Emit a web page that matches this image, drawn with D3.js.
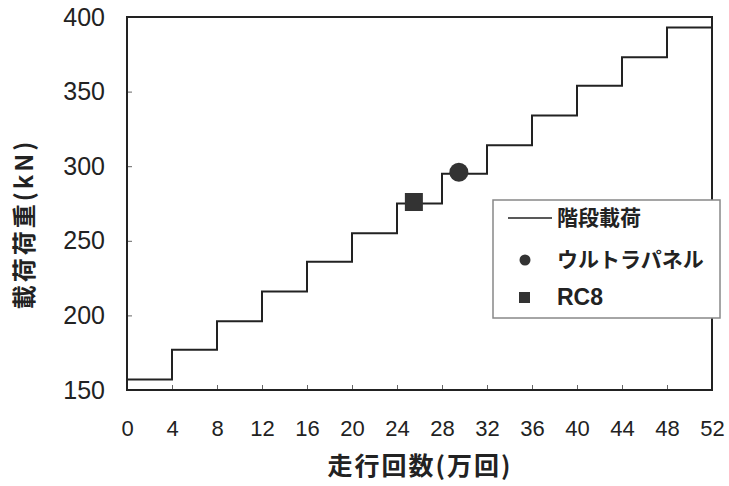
<!DOCTYPE html>
<html>
<head>
<meta charset="utf-8">
<script src="https://cdn.jsdelivr.net/npm/d3@7"></script>
<style>
  body { margin: 0; background: #fff; }
  svg text { font-family: "Liberation Sans", Arial, sans-serif; fill: #222; }
  .jp { font-family: "Noto Sans CJK JP", sans-serif; font-weight: bold; }
</style>
</head>
<body>
<svg id="chart" width="729" height="486"></svg>
<script>
// step loading: start of each step (万回) and load level (kN)
var stepStart = [0, 4, 8, 12, 16, 20, 24, 28, 32, 36, 40, 44, 48];
var stepLoad = [157, 177, 196, 216, 236, 255, 275, 295, 314, 334, 354, 373, 393];
var stepEnd = 52;

// failure points
var panelPoint = [29.5, 296];   // ウルトラパネル
var rc8Point = [25.5, 276];     // RC8

var xTicks = [0, 4, 8, 12, 16, 20, 24, 28, 32, 36, 40, 44, 48, 52];
var yTicks = [150, 200, 250, 300, 350, 400];

var legendLabels = ["階段載荷", "ウルトラパネル", "RC8"];

var svg = d3.select("#chart");
var mLeft = 127, mRight = 712, mTop = 17, mBottom = 390;

var x = d3.scaleLinear().domain([0, 52]).range([mLeft, mRight]);
var y = d3.scaleLinear().domain([150, 400]).range([mBottom, mTop]);

// axes with inward ticks
svg.append("g")
    .attr("transform", "translate(0," + mBottom + ")")
    .call(d3.axisBottom(x).tickValues(xTicks).tickSize(-5).tickPadding(30))
    .call(function(g) {
        g.select(".domain").remove();
        g.selectAll("line").attr("stroke", "#666");
        g.selectAll("text").attr("font-size", "22px").attr("fill", "#222");
    });

svg.append("g")
    .attr("transform", "translate(" + mLeft + ",0)")
    .call(d3.axisLeft(y).tickValues(yTicks).tickSize(-5).tickPadding(22))
    .call(function(g) {
        g.select(".domain").remove();
        g.selectAll("line").attr("stroke", "#666");
        g.selectAll("text").attr("font-size", "25px").attr("fill", "#222");
    });

// frame
svg.append("rect")
    .attr("x", mLeft).attr("y", mTop)
    .attr("width", mRight - mLeft).attr("height", mBottom - mTop)
    .attr("fill", "none").attr("stroke", "#222").attr("stroke-width", 2);

// step line
var pts = [];
stepStart.forEach(function(s, i) {
    pts.push([s, stepLoad[i]]);
});
pts.push([stepEnd, stepLoad[stepLoad.length - 1]]);

var line = d3.line()
    .x(function(d) { return x(d[0]); })
    .y(function(d) { return y(d[1]); })
    .curve(d3.curveStepAfter);

svg.append("path")
    .datum(pts)
    .attr("d", line)
    .attr("fill", "none")
    .attr("stroke", "#222")
    .attr("stroke-width", 2);

// markers
svg.append("circle")
    .attr("cx", x(panelPoint[0])).attr("cy", y(panelPoint[1]))
    .attr("r", 9.5).attr("fill", "#333");

svg.append("rect")
    .attr("x", x(rc8Point[0]) - 9).attr("y", y(rc8Point[1]) - 9)
    .attr("width", 18).attr("height", 18).attr("fill", "#333");

// legend
var lg = svg.append("g");
lg.append("rect")
    .attr("x", 493).attr("y", 200).attr("width", 227).attr("height", 118)
    .attr("fill", "#fff").attr("stroke", "#888").attr("stroke-width", 1.5);

lg.append("line")
    .attr("x1", 508).attr("x2", 552).attr("y1", 218).attr("y2", 218)
    .attr("stroke", "#222").attr("stroke-width", 1.5);
lg.append("circle").attr("cx", 525).attr("cy", 260).attr("r", 5.5).attr("fill", "#333");
lg.append("rect").attr("x", 519).attr("y", 292).attr("width", 11).attr("height", 11).attr("fill", "#333");

legendLabels.forEach(function(t, i) {
    lg.append("text")
        .attr("class", i < 2 ? "jp" : "")
        .attr("x", 557).attr("y", [218, 260, 297][i])
        .attr("dy", "0.35em")
        .attr("font-size", i < 2 ? "21px" : "23px")
        .attr("font-weight", "bold")
        .text(t);
});

// axis titles
svg.append("text")
    .attr("class", "jp")
    .attr("x", 420).attr("y", 466)
    .attr("text-anchor", "middle").attr("dy", "0.35em")
    .attr("font-size", "25px")
    .attr("letter-spacing", "2px")
    .text("走行回数(万回)");

svg.append("text")
    .attr("class", "jp")
    .attr("transform", "translate(25,224) rotate(-90)")
    .attr("text-anchor", "middle").attr("dy", "0.35em")
    .attr("font-size", "24px")
    .attr("letter-spacing", "3px")
    .text("載荷荷重(kN)");
</script>
</body>
</html>
